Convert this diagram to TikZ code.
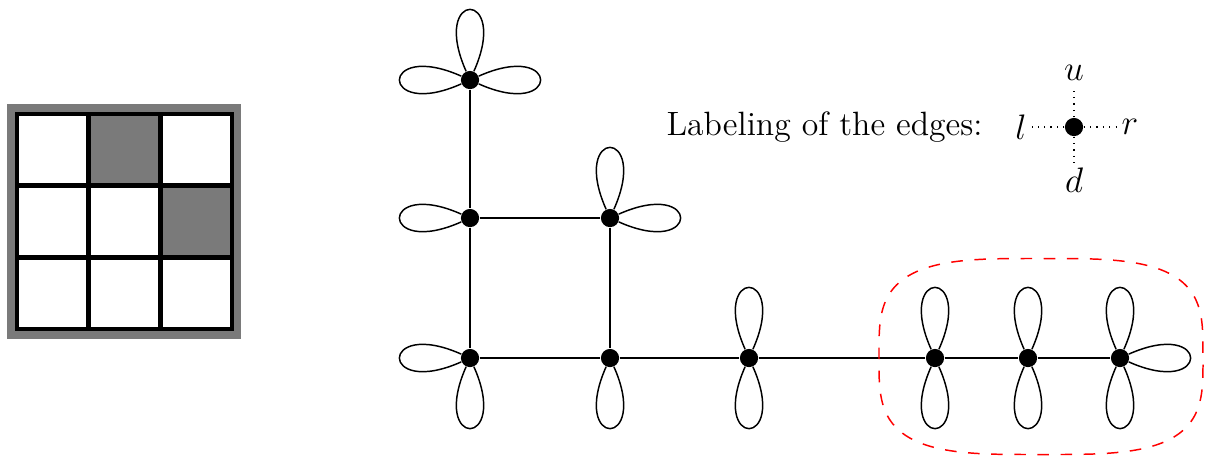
\documentclass[tikz,border=0pt]{standalone}
\usetikzlibrary{calc}
\definecolor{cellgray}{gray}{0.478}
\tikzset{
  vert/.style={circle,fill=black,inner sep=0pt,minimum size=7.4pt},
  edgeline/.style={line width=0.6pt},
  petalline/.style={line width=0.6pt},
  legendline/.style={line width=0.5pt,dash pattern=on 0.5pt off 2.1pt},
  region/.style={red,dash pattern=on 4.7pt off 4.7pt,line width=0.6pt},
  cell/.style={draw=black,line width=1.8pt},
  lbl/.style={font=\fontsize{13.7}{16}\selectfont,inner sep=2pt}
}
\newcommand{\petal}[2]{%
  \draw[petalline] (#1) to[out=#2+24,in=#2-24,distance=1.29cm] (#1);}
\begin{document}
\begin{tikzpicture}[x=0.0142857cm,y=-0.0142857cm]
\useasboundingbox (0,0) rectangle (1205,458);
% left grid
\fill[cellgray] (7,104) rectangle (241,339);
\foreach \i in {0,1,2}{
  \foreach \j in {0,1,2}{
    \filldraw[cell,fill=white] ({17+71.67*\i},{114+71.67*\j}) rectangle ({17+71.67*(\i+1)},{114+71.67*(\j+1)});
  }
}
\filldraw[cell,fill=cellgray] (88.67,114) rectangle (160.33,185.67);
\filldraw[cell,fill=cellgray] (160.33,185.67) rectangle (232,257.33);
% graph nodes
\node[vert] (A1) at (470,80) {};
\node[vert] (A2) at (470,218) {};
\node[vert] (B2) at (610,218) {};
\node[vert] (A3) at (470,358) {};
\node[vert] (B3) at (610,358) {};
\node[vert] (C3) at (749,358) {};
\node[vert] (D3) at (935,358) {};
\node[vert] (E3) at (1028,358) {};
\node[vert] (F3) at (1120,358) {};
% edges
\draw[edgeline] (A1) -- (A2);
\draw[edgeline] (A2) -- (A3);
\draw[edgeline] (A2) -- (B2);
\draw[edgeline] (B2) -- (B3);
\draw[edgeline] (A3) -- (B3);
\draw[edgeline] (B3) -- (C3);
\draw[edgeline] (C3) -- (D3);
\draw[edgeline] (D3) -- (E3);
\draw[edgeline] (E3) -- (F3);
% petals
\petal{A1}{90}\petal{A1}{180}\petal{A1}{0}
\petal{A2}{180}
\petal{B2}{90}\petal{B2}{0}
\petal{A3}{180}\petal{A3}{270}
\petal{B3}{270}
\petal{C3}{90}\petal{C3}{270}
\petal{D3}{90}\petal{D3}{270}
\petal{E3}{90}\petal{E3}{270}
\petal{F3}{90}\petal{F3}{270}\petal{F3}{0}
% red region (superellipse)
\draw[region] plot[domain=1:357,samples=90,smooth]
  ({1041+162*sign(cos(\x))*abs(cos(\x))^(0.57)},{356.5+98*sign(sin(\x))*abs(sin(\x))^(0.57)}) -- cycle;
% legend
\node[lbl,anchor=east] (title) at (988,127) {Labeling of the edges:};
\node[vert] (L) at (1074,127) {};
\node[lbl] (lu) at (1074,73) {$u$};
\node[lbl] (ld) at (1074,180) {$d$};
\node[lbl] (ll) at (1021,127) {$l$};
\node[lbl] (lr) at (1130,127) {$r$};
\draw[legendline] (L) -- (lu);
\draw[legendline] (L) -- (ld);
\draw[legendline] (L) -- (ll);
\draw[legendline] (L) -- (lr);
\end{tikzpicture}
\end{document}
